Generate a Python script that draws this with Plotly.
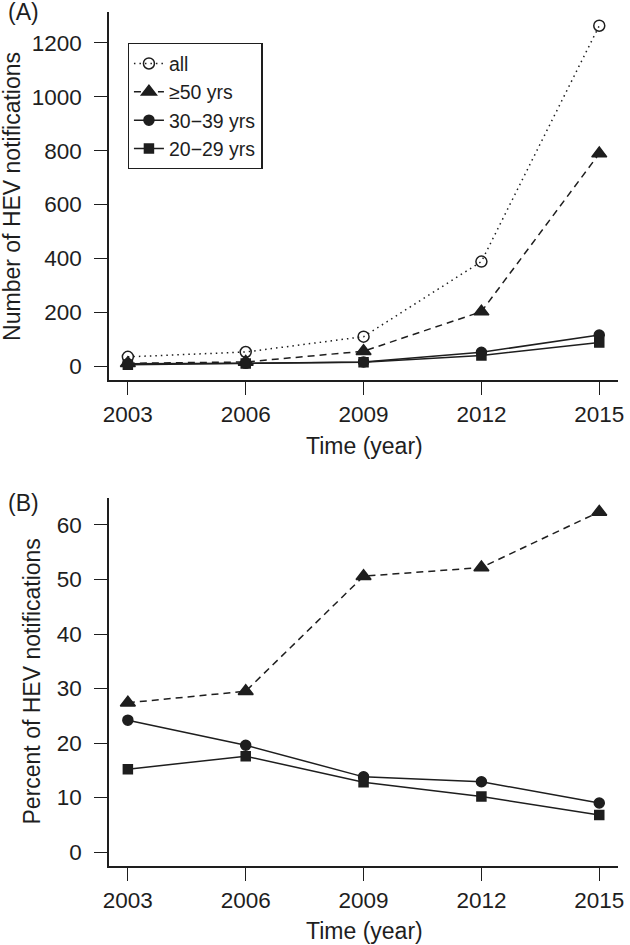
import plotly.graph_objects as go

years = [2003, 2006, 2009, 2012, 2015]

# Panel A: number of HEV notifications
num_all = [34, 52, 109, 388, 1264]
num_50 = [10, 15, 55, 202, 789]
num_30 = [8, 10, 15, 51, 115]
num_20 = [5, 9, 14, 39, 87]

# Panel B: percent of HEV notifications
pct_50 = [27.4, 29.5, 50.6, 52.2, 62.4]
pct_30 = [24.2, 19.6, 13.8, 12.9, 9.0]
pct_20 = [15.2, 17.6, 12.8, 10.2, 6.8]

labels = ["all", "\u226550 yrs", "30\u221239 yrs", "20\u221229 yrs"]
x_ticks = [2003, 2006, 2009, 2012, 2015]
yA_ticks = [0, 200, 400, 600, 800, 1000, 1200]
yB_ticks = [0, 10, 20, 30, 40, 50, 60]

W, H = 630, 945
INK = "#1e1e1e"
FONT = "Liberation Sans, Arial, sans-serif"
LW = 1.5

fig = go.Figure()

styles = [
    dict(dash="1.5px,4px", symbol="circle-open", size=11),
    dict(dash="7px,5px", symbol="triangle-up", size=13),
    dict(dash="solid", symbol="circle", size=10),
    dict(dash="solid", symbol="square", size=9),
]

def add(xs, ys, st, name, xa, ya, show):
    fig.add_trace(go.Scatter(
        x=xs, y=ys, mode="lines+markers", name=name, showlegend=show,
        xaxis=xa, yaxis=ya,
        line=dict(color=INK, width=LW, dash=st["dash"]),
        marker=dict(symbol=st["symbol"], size=st["size"], color=INK,
                    line=dict(color=INK, width=1.5)),
    ))

for vals, st, name in zip([num_all, num_50, num_30, num_20], styles, labels):
    add(years, vals, st, name, "x", "y", True)
for vals, st, name in zip([pct_50, pct_30, pct_20], styles[1:], labels[1:]):
    add(years, vals, st, name, "x2", "y2", False)

def px_x(p):
    return p / W

def px_y(p):
    return 1 - p / H

xdom = [px_x(105), px_x(624)]
axis_common = dict(
    showline=True, linecolor=INK, linewidth=1.5, mirror=False,
    ticks="outside", ticklen=13, tickwidth=1.3, tickcolor=INK,
    showgrid=False, zeroline=False,
    tickfont=dict(family=FONT, size=22.5, color=INK),
)

fig.update_layout(
    width=W, height=H,
    margin=dict(l=0, r=0, t=0, b=0),
    paper_bgcolor="white", plot_bgcolor="white",
    font=dict(family=FONT, color=INK),
    xaxis=dict(domain=xdom, anchor="y", range=[2002.52, 2015.48],
               tickvals=x_ticks, ticklabelstandoff=0, **axis_common),
    yaxis=dict(domain=[px_y(380), px_y(12)], anchor="x",
               range=[-52, 1315], tickvals=yA_ticks, ticklabelstandoff=8,
               **axis_common),
    xaxis2=dict(domain=xdom, anchor="y2", range=[2002.52, 2015.48],
                tickvals=x_ticks, ticklabelstandoff=0, **axis_common),
    yaxis2=dict(domain=[px_y(866), px_y(498)], anchor="x2",
                range=[-2.55, 64.95], tickvals=yB_ticks, ticklabelstandoff=8,
                **axis_common),
    legend=dict(
        x=px_x(124), y=px_y(43), xanchor="left", yanchor="top",
        bordercolor=INK, borderwidth=1.3, bgcolor="white",
        font=dict(family=FONT, size=19.5, color=INK),
        tracegroupgap=2, itemwidth=30,
    ),
    showlegend=True,
)

ann = [
    dict(text="(A)", x=px_x(0), y=px_y(12), xanchor="left", yanchor="middle", size=23),
    dict(text="(B)", x=px_x(0), y=px_y(503), xanchor="left", yanchor="middle", size=23),
    dict(text="Time (year)", x=px_x(365), y=px_y(446), xanchor="center", yanchor="middle", size=23),
    dict(text="Time (year)", x=px_x(365), y=px_y(931), xanchor="center", yanchor="middle", size=23),
]
for a in ann:
    fig.add_annotation(text=a["text"], x=a["x"], y=a["y"], xref="paper", yref="paper",
                       xanchor=a["xanchor"], yanchor=a["yanchor"], showarrow=False,
                       font=dict(family=FONT, size=a["size"], color=INK))

fig.add_annotation(text="Number of HEV notifications", x=px_x(6), y=px_y(196),
                   xref="paper", yref="paper", textangle=-90, showarrow=False,
                   xanchor="center", yanchor="middle",
                   font=dict(family=FONT, size=23, color=INK))
fig.add_annotation(text="Percent of HEV notifications", x=px_x(26), y=px_y(682),
                   xref="paper", yref="paper", textangle=-90, showarrow=False,
                   xanchor="center", yanchor="middle",
                   font=dict(family=FONT, size=23, color=INK))

fig.write_html("out.html", config={"displayModeBar": False},
               post_script="document.body.style.margin='0';document.body.style.overflow='hidden';")
